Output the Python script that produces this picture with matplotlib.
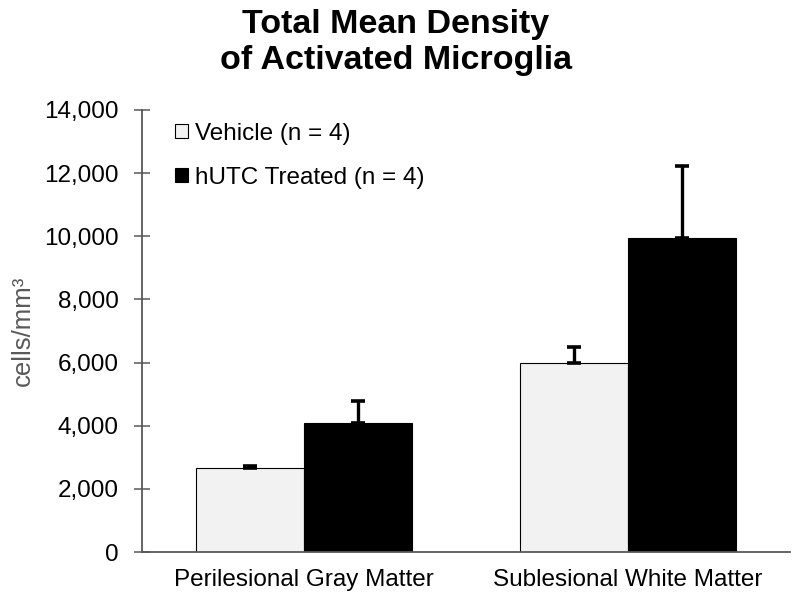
import numpy as np
import matplotlib
matplotlib.use("Agg")
import matplotlib.pyplot as plt
from matplotlib.ticker import FuncFormatter

plt.rcParams['font.family'] = ['Liberation Sans', 'DejaVu Sans']

# data
regions = ["Perilesional Gray Matter", "Sublesional White Matter"]
vehicle = [2660, 5990]
vehicle_err = [60, 500]
treated = [4090, 9950]
treated_err = [690, 2280]
labels = ["Vehicle (n = 4)", "hUTC Treated (n = 4)"]

fig = plt.figure(figsize=(8, 6.08), dpi=100)
ax = fig.add_axes([0.1775, 0.0921, 0.81, 0.727])

x = np.arange(len(regions))
w = 0.333
axis_grey = "#595959"

ax.bar(x - w / 2, vehicle, w, color="#F2F2F2", edgecolor="black", linewidth=0.8,
       label=labels[0], zorder=2)
ax.bar(x + w / 2, treated, w, color="black", edgecolor="black", linewidth=0.8,
       label=labels[1], zorder=2)

err_kw = dict(fmt="none", ecolor="black", elinewidth=2.4, capsize=5, capthick=2.6, zorder=3)
ax.errorbar(x - w / 2, vehicle, yerr=[np.zeros(len(x)), vehicle_err], **err_kw)
ax.errorbar(x + w / 2, treated, yerr=[np.zeros(len(x)), treated_err], **err_kw)

ax.set_xlim(-0.5, 1.5)
ax.set_ylim(0, 14000)
ax.set_yticks(np.arange(0, 14001, 2000))
ax.yaxis.set_major_formatter(FuncFormatter(lambda v, p: f"{int(v):,}"))
ax.set_xticks(x)
ax.set_xticklabels(regions)

for s in ["top", "right"]:
    ax.spines[s].set_visible(False)
for s in ["left", "bottom"]:
    ax.spines[s].set_color(axis_grey)
    ax.spines[s].set_linewidth(1.3)

ax.tick_params(axis="y", direction="inout", length=11.5, width=1.1, color=axis_grey,
               labelsize=17.5, pad=11)
ax.tick_params(axis="x", length=0, labelsize=17.5, pad=12)

ax.set_ylabel("cells/mm³", fontsize=18.5, color=axis_grey, labelpad=7)

fig.text(0.495, 0.985, "Total Mean Density\nof Activated Microglia", ha="center", va="top",
         fontsize=24.5, fontweight="bold", linespacing=1.2)

ax.legend(loc="upper left", bbox_to_anchor=(0.017, 1.021), frameon=False, fontsize=17.5,
          handlelength=0.53, handleheight=0.53, handletextpad=0.3, labelspacing=0.92)

fig.savefig("out.png", dpi=100)
